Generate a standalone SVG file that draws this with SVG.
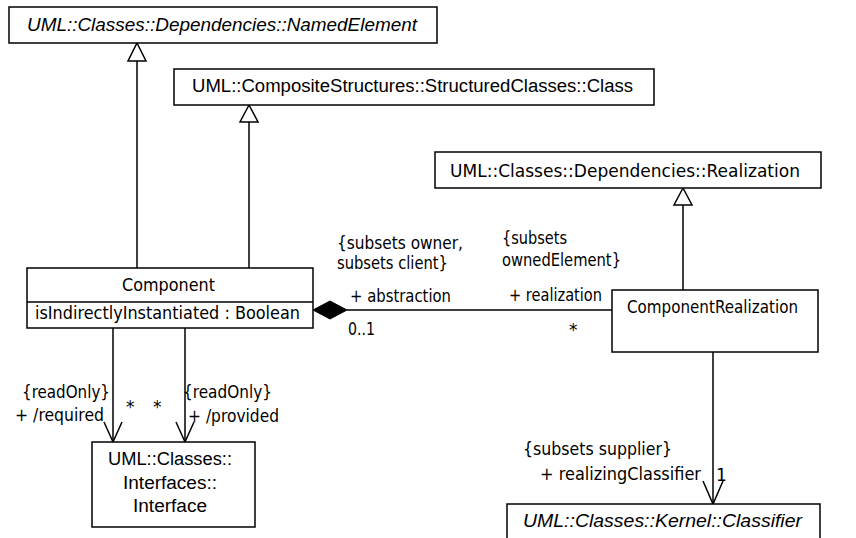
<svg xmlns="http://www.w3.org/2000/svg" width="856" height="538" viewBox="0 0 856 538">
<style>
.box{fill:#fff;stroke:#000;stroke-width:1.5}
.ln{fill:none;stroke:#000;stroke-width:1.5}
.gen{fill:#fff;stroke:#000;stroke-width:1.5}
.comp{fill:#000;stroke:#000;stroke-width:1}
.t{font-family:"DejaVu Sans",Verdana,sans-serif;font-size:17px;fill:#000}
.a{font-family:"Liberation Sans",Arial,sans-serif;font-size:18px;fill:#000}
.i{font-style:italic}
</style>
<rect width="856" height="538" fill="#fff"/>
<g id="connectors">
  <line class="ln" x1="137" y1="61" x2="137" y2="268"/>
  <polygon class="gen" points="137,43 146,61 128,61"/>
  <line class="ln" x1="249" y1="122" x2="249" y2="268"/>
  <polygon class="gen" points="249,105 258,122 240,122"/>
  <line class="ln" x1="683" y1="205" x2="683" y2="290"/>
  <polygon class="gen" points="683,188 692,205 674,205"/>
  <line class="ln" x1="347" y1="310" x2="612" y2="310"/>
  <polygon class="comp" points="313,310 330,301 347,310 330,319"/>
  <line class="ln" x1="113" y1="328" x2="113" y2="442"/>
  <polyline class="ln" points="104,422 113,442 122,422"/>
  <line class="ln" x1="185" y1="328" x2="185" y2="442"/>
  <polyline class="ln" points="176,422 185,442 194,422"/>
  <line class="ln" x1="713" y1="352" x2="713" y2="504"/>
  <polyline class="ln" points="703,481 713,504 723,481"/>
  <text class="t" x="337" y="249" textLength="126" lengthAdjust="spacingAndGlyphs">{subsets owner,</text>
  <text class="t" x="337" y="269" textLength="111" lengthAdjust="spacingAndGlyphs">subsets client}</text>
  <text class="t" x="350" y="302" textLength="101" lengthAdjust="spacingAndGlyphs">+ abstraction</text>
  <text class="t" x="348" y="335" textLength="27" lengthAdjust="spacingAndGlyphs">0..1</text>
  <text class="t" x="502" y="244" textLength="65" lengthAdjust="spacingAndGlyphs">{subsets</text>
  <text class="t" x="502" y="266" textLength="119" lengthAdjust="spacingAndGlyphs">ownedElement}</text>
  <text class="t" x="509" y="301" textLength="93" lengthAdjust="spacingAndGlyphs">+ realization</text>
  <text class="t" x="569" y="336">*</text>
  <text class="t" x="22" y="398" textLength="88" lengthAdjust="spacingAndGlyphs">{readOnly}</text>
  <text class="t" x="15" y="421" textLength="89" lengthAdjust="spacingAndGlyphs">+ /required</text>
  <text class="t" x="126" y="413">*</text>
  <text class="t" x="153" y="413">*</text>
  <text class="t" x="183" y="398" textLength="89" lengthAdjust="spacingAndGlyphs">{readOnly}</text>
  <text class="t" x="188" y="422" textLength="91" lengthAdjust="spacingAndGlyphs">+ /provided</text>
  <text class="t" x="523" y="455" textLength="149" lengthAdjust="spacingAndGlyphs">{subsets supplier}</text>
  <text class="t" x="540" y="480" textLength="161" lengthAdjust="spacingAndGlyphs">+ realizingClassifier</text>
  <text class="t" x="716" y="481">1</text>
</g>
<g id="NamedElement">
  <rect class="box" x="9" y="7" width="428" height="36"/>
  <text class="a i" x="27" y="31" textLength="390" lengthAdjust="spacingAndGlyphs">UML::Classes::Dependencies::NamedElement</text>
</g>
<g id="Class">
  <rect class="box" x="174" y="69" width="480" height="36"/>
  <text class="a" x="192" y="92" textLength="441" lengthAdjust="spacingAndGlyphs">UML::CompositeStructures::StructuredClasses::Class</text>
</g>
<g id="Realization">
  <rect class="box" x="435" y="152" width="386" height="36"/>
  <text class="t" x="450" y="177" textLength="350" lengthAdjust="spacingAndGlyphs">UML::Classes::Dependencies::Realization</text>
</g>
<g id="Component">
  <rect class="box" x="27" y="268" width="286" height="60"/>
  <line class="ln" x1="27" y1="302" x2="313" y2="302"/>
  <text class="t" x="168.5" y="291" text-anchor="middle" textLength="93" lengthAdjust="spacingAndGlyphs">Component</text>
  <text class="t" x="35" y="319" textLength="265" lengthAdjust="spacingAndGlyphs">isIndirectlyInstantiated : Boolean</text>
</g>
<g id="ComponentRealization">
  <rect class="box" x="612" y="290" width="206" height="62"/>
  <text class="t" x="627" y="313" textLength="171" lengthAdjust="spacingAndGlyphs">ComponentRealization</text>
</g>
<g id="Interface">
  <rect class="box" x="92" y="442" width="163" height="85"/>
  <text class="a" x="170" y="465" text-anchor="middle" textLength="124" lengthAdjust="spacingAndGlyphs">UML::Classes::</text>
  <text class="a" x="170" y="489" text-anchor="middle" textLength="94" lengthAdjust="spacingAndGlyphs">Interfaces::</text>
  <text class="a" x="170" y="512" text-anchor="middle" textLength="74" lengthAdjust="spacingAndGlyphs">Interface</text>
</g>
<g id="Classifier">
  <rect class="box" x="507" y="504" width="313" height="50"/>
  <text class="a i" x="523" y="527" textLength="279" lengthAdjust="spacingAndGlyphs">UML::Classes::Kernel::Classifier</text>
</g>
</svg>
